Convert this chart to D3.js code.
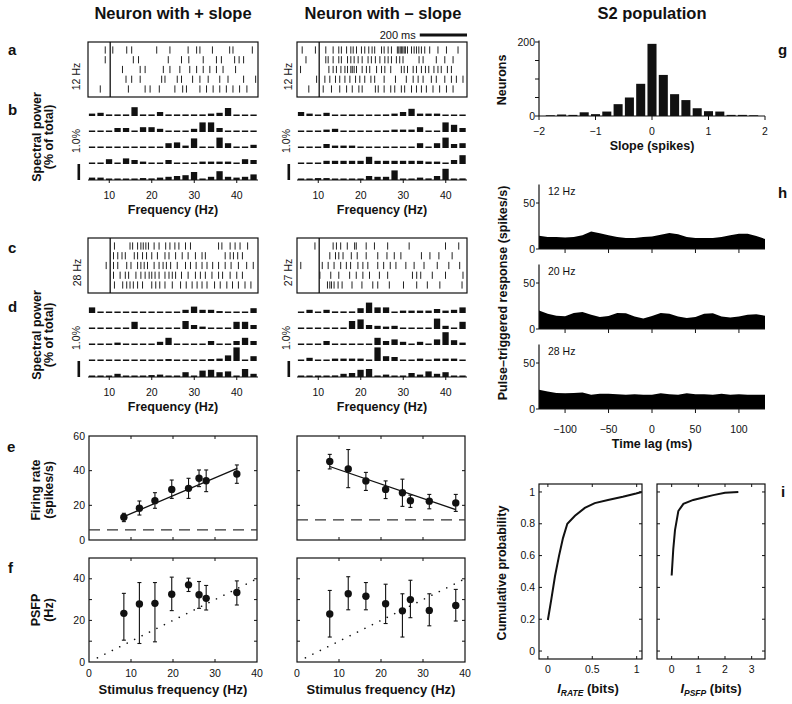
<!DOCTYPE html>
<html lang="en">
<head>
<meta charset="UTF-8">
<title>S2 neurons: rasters, spectra, tuning and information</title>
<script src="https://d3js.org/d3.v7.min.js"></script>
<style>
  body { margin: 0; background: #fff; }
  svg { font-family: "Liberation Sans", Arial, Helvetica, sans-serif; }
</style>
</head>
<body>
<svg id="fig" width="792" height="704"></svg>
<script>
// ---- a / c : spike rasters, spike times in ms (stimulus onset = 0)
const rasterWindow = [-94, 626];
const rasterA_pos = [
  [-21, 11, 70, 91, 197, 253, 330, 366, 380, 433, 506, 520, 602],
  [-21, 98, 120, 246, 302, 333, 394, 450, 471, 527, 546, 565],
  [52, 127, 148, 225, 253, 295, 337, 366, 394, 422, 450, 478, 531],
  [67, 91, 127, 218, 232, 284, 302, 349, 380, 415, 464, 499, 565, 616],
  [-42, 77, 148, 169, 208, 274, 307, 323, 380, 408, 436, 464, 492, 520, 548, 579]
];
const rasterA_neg = [
  [-72, -16, 28, 59, 83, 94, 116, 134, 144, 158, 179, 193, 210, 224, 235, 264, 275, 292, 306, 331, 337, 343, 348, 354, 360, 365, 374, 391, 402, 412, 422, 433, 447, 468, 503, 539, 588],
  [-56, 28, 38, 59, 83, 94, 120, 134, 148, 165, 182, 207, 221, 238, 257, 278, 292, 306, 327, 341, 355, 423, 440, 496, 532, 567],
  [-79, 41, 59, 73, 92, 109, 120, 134, 140, 148, 158, 182, 200, 214, 243, 264, 278, 303, 348, 360, 374, 398, 412, 433, 450, 464, 486, 503, 517, 543, 560],
  [-11, 24, 45, 69, 87, 109, 130, 154, 172, 193, 219, 235, 275, 323, 369, 398, 419, 440, 475, 496, 532, 560, 581, 609],
  [-44, 17, 52, 87, 116, 140, 168, 182, 238, 250, 275, 303, 320, 348, 362, 391, 412, 433, 454, 482, 510, 539, 567]
];
const rasterC_pos = [
  [18, 84, 95, 116, 130, 140, 151, 162, 186, 207, 235, 253, 274, 291, 319, 340, 459, 473, 508, 529, 550, 582],
  [14, 32, 50, 64, 102, 116, 137, 154, 176, 200, 232, 249, 277, 305, 330, 361, 389, 403, 487, 508, 522, 540, 560],
  [-17, 14, 32, 70, 88, 116, 130, 144, 158, 186, 207, 224, 238, 256, 284, 319, 340, 364, 389, 410, 434, 459, 487, 512, 543, 578, 606],
  [14, 42, 64, 78, 109, 130, 148, 165, 176, 190, 207, 232, 249, 263, 277, 302, 330, 361, 382, 403, 431, 459, 476, 508, 536, 560],
  [18, 53, 70, 84, 98, 116, 137, 176, 193, 210, 232, 263, 298, 322, 347, 368, 389, 410, 442, 466, 494, 518, 543, 571, 596]
];
const rasterC_neg = [
  [-18, 59, 73, 91, 119, 150, 157, 199, 234, 290, 381, 535, 591],
  [45, 69, 83, 101, 136, 161, 199, 248, 287, 318, 346, 433, 469, 507, 563],
  [-78, 13, 38, 63, 91, 115, 133, 164, 185, 206, 248, 273, 301, 325, 367, 402, 444, 500, 549, 595],
  [3, 49, 83, 129, 157, 185, 213, 255, 290, 395, 413, 430, 479, 535, 609],
  [35, 45, 52, 63, 80, 97, 139, 181, 227, 248, 297, 357, 413, 458, 511, 605]
];
const rateA_pos = "12 Hz", rateA_neg = "12 Hz", rateC_pos = "28 Hz", rateC_neg = "27 Hz";

// ---- b / d : spectral power per 2-Hz bin (% of total), five trials each
const specFreqs = [6, 8, 10, 12, 14, 16, 18, 20, 22, 24, 26, 28, 30, 32, 34, 36, 38, 40, 42, 44];
const specTicks = [10, 20, 30, 40];
const specB_pos = [
  [0.15, 0.2, 0.1, 0.1, 0.1, 0.55, 0.1, 0.1, 0.25, 0.1, 0.1, 0.1, 0.1, 0.1, 0.15, 0.2, 0.5, 0.08, 0.08, 0.08],
  [0.08, 0.08, 0.08, 0.25, 0.25, 0.08, 0.3, 0.3, 0.2, 0.08, 0.08, 0.08, 0.2, 0.6, 0.6, 0.25, 0.08, 0.08, 0.08, 0.08],
  [0.08, 0.08, 0.08, 0.08, 0.08, 0.08, 0.08, 0.08, 0.08, 0.3, 0.35, 0.15, 0.6, 0.08, 0.08, 0.65, 0.3, 0.08, 0.08, 0.2],
  [0.08, 0.08, 0.3, 0.08, 0.35, 0.25, 0.15, 0.08, 0.08, 0.25, 0.08, 0.08, 0.08, 0.15, 0.15, 0.15, 0.15, 0.08, 0.3, 0.25],
  [0.15, 0.15, 0.05, 0.05, 0.05, 0.05, 0.12, 0.1, 0.15, 0.2, 0.25, 0.3, 0.5, 0.05, 0.2, 0.55, 0.2, 0.15, 0.2, 0.35]
];
const specB_neg = [
  [0.25, 0.15, 0.08, 0.2, 0.08, 0.08, 0.1, 0.08, 0.08, 0.08, 0.1, 0.15, 0.25, 0.45, 0.15, 0.15, 0.15, 0.08, 0.08, 0.08],
  [0.08, 0.08, 0.08, 0.15, 0.2, 0.08, 0.08, 0.08, 0.08, 0.08, 0.1, 0.15, 0.15, 0.15, 0.3, 0.08, 0.08, 0.6, 0.45, 0.25],
  [0.08, 0.08, 0.08, 0.25, 0.15, 0.15, 0.15, 0.08, 0.08, 0.08, 0.08, 0.08, 0.08, 0.08, 0.3, 0.08, 0.3, 0.65, 0.25, 0.3],
  [0.08, 0.08, 0.08, 0.2, 0.2, 0.2, 0.2, 0.2, 0.45, 0.2, 0.2, 0.2, 0.2, 0.2, 0.2, 0.15, 0.15, 0.08, 0.25, 0.55],
  [0.04, 0.04, 0.12, 0.12, 0.04, 0.04, 0.04, 0.06, 0.25, 0.2, 0.2, 0.6, 0.04, 0.04, 0.15, 0.1, 0.25, 0.7, 0.04, 0.1]
];
const specD_pos = [
  [0.35, 0.08, 0.08, 0.08, 0.08, 0.08, 0.08, 0.08, 0.08, 0.08, 0.08, 0.2, 0.4, 0.2, 0.2, 0.12, 0.08, 0.08, 0.08, 0.3],
  [0.08, 0.08, 0.08, 0.08, 0.08, 0.45, 0.08, 0.08, 0.08, 0.08, 0.08, 0.5, 0.25, 0.15, 0.08, 0.08, 0.08, 0.45, 0.45, 0.25],
  [0.08, 0.08, 0.08, 0.15, 0.08, 0.08, 0.08, 0.08, 0.2, 0.45, 0.08, 0.08, 0.08, 0.08, 0.25, 0.08, 0.08, 0.25, 0.45, 0.25],
  [0.08, 0.08, 0.08, 0.08, 0.08, 0.08, 0.08, 0.08, 0.1, 0.12, 0.08, 0.08, 0.08, 0.08, 0.12, 0.15, 0.35, 0.85, 0.08, 0.3],
  [0.04, 0.04, 0.04, 0.2, 0.04, 0.06, 0.04, 0.12, 0.15, 0.04, 0.04, 0.3, 0.04, 0.4, 0.45, 0.3, 0.35, 0.04, 0.5, 0.2]
];
const specD_neg = [
  [0.08, 0.2, 0.08, 0.2, 0.1, 0.1, 0.1, 0.3, 0.65, 0.35, 0.35, 0.08, 0.15, 0.15, 0.15, 0.15, 0.25, 0.15, 0.2, 0.35],
  [0.08, 0.08, 0.08, 0.08, 0.08, 0.08, 0.5, 0.6, 0.25, 0.2, 0.15, 0.2, 0.08, 0.08, 0.08, 0.08, 0.65, 0.2, 0.08, 0.45],
  [0.08, 0.08, 0.08, 0.25, 0.08, 0.08, 0.08, 0.08, 0.08, 0.45, 0.25, 0.35, 0.2, 0.08, 0.2, 0.08, 0.35, 0.8, 0.3, 0.15],
  [0.08, 0.2, 0.08, 0.08, 0.15, 0.15, 0.15, 0.15, 0.08, 0.85, 0.3, 0.25, 0.08, 0.08, 0.15, 0.08, 0.15, 0.15, 0.15, 0.08],
  [0.03, 0.03, 0.03, 0.03, 0.1, 0.2, 0.25, 0.45, 0.5, 0.06, 0.15, 0.03, 0.03, 0.25, 0.15, 0.35, 0.2, 0.3, 0.06, 0.08]
];

// ---- e / f : firing rate and PSFP vs stimulus frequency
const stimPos = [8.3, 12.0, 15.7, 19.7, 23.7, 26.2, 27.9, 35.2];
const ratePos = [13.1, 18.3, 22.7, 29.2, 29.8, 35.6, 34.2, 38.1];
const rateLoPos = [10.6, 14.4, 18.3, 24.0, 24.0, 30.8, 27.9, 32.7];
const rateHiPos = [15.4, 22.5, 27.3, 34.6, 35.6, 40.4, 40.4, 43.3];
const rateFitXPos = [8.3, 35.3], rateFitYPos = [13.5, 41.3];
const spontPos = 5.8;
const psfpPos = [23.4, 27.9, 28.2, 32.6, 37.1, 32.3, 30.6, 33.4];
const psfpLoPos = [10.5, 8.9, 9.7, 24.7, 33.9, 25.8, 25.0, 27.4];
const psfpHiPos = [33.0, 38.2, 38.2, 40.8, 40.3, 38.7, 36.8, 39.0];

const stimNeg = [7.8, 12.2, 16.4, 21.1, 25.1, 27.0, 31.5, 37.8];
const rateNeg = [45.3, 41.0, 34.1, 29.2, 27.3, 22.7, 22.4, 21.4];
const rateLoNeg = [41.0, 30.2, 28.6, 23.9, 19.4, 18.8, 18.0, 16.5];
const rateHiNeg = [49.4, 52.2, 39.0, 34.1, 35.1, 25.9, 26.3, 26.3];
const rateFitXNeg = [7.8, 37.8], rateFitYNeg = [42.4, 17.5];
const spontNeg = 11.6;
const psfpNeg = [23.1, 32.8, 31.6, 28.0, 24.6, 30.0, 24.8, 27.2];
const psfpLoNeg = [12.0, 25.1, 25.1, 18.5, 12.0, 21.3, 17.4, 19.7];
const psfpHiNeg = [34.4, 41.0, 38.2, 37.4, 32.8, 39.3, 32.8, 34.9];
const unityX = [2, 40];

// ---- g : slope histogram
const slopeBins = [-1.8, -1.6, -1.4, -1.2, -1.0, -0.8, -0.6, -0.4, -0.2, 0, 0.2, 0.4, 0.6, 0.8, 1.0, 1.2, 1.4, 1.6, 1.8];
const slopeCounts = [2, 4, 3, 10, 5, 12, 32, 50, 87, 195, 111, 59, 43, 21, 13, 12, 3, 3, 2];

// ---- h : population pulse-triggered response (spikes/s)
const lagMs = [-130, -120, -110, -100, -90, -80, -70, -60, -50, -40, -30, -20, -10, 0, 10, 20, 30, 40, 50, 60, 70, 80, 90, 100, 110, 120, 130];
const resp12 = [14.5, 13, 13, 12.5, 13, 15, 19, 17, 15, 13, 12, 12, 13, 13.5, 15.5, 17.5, 16, 13, 12, 12, 12, 13, 15, 16.5, 16.5, 14, 11];
const resp20 = [20, 16.5, 14.5, 13.8, 17.5, 18.5, 15.5, 13, 14, 17.5, 17, 13.5, 11.5, 14, 17.5, 16.5, 13.5, 12, 13, 16.5, 17, 13.5, 12.5, 13.5, 15.5, 16, 14.5];
const resp28 = [21, 19, 17.5, 17, 17.5, 18, 15.5, 16.5, 16.5, 16, 15.5, 16, 15.5, 15.5, 17, 16, 15.5, 17, 16, 16, 15.5, 16.5, 15.5, 16, 15.5, 15.5, 15.5];
const respLabels = ["12 Hz", "20 Hz", "28 Hz"];

// ---- i : cumulative distributions of information
const rateBits = [0, 0.04, 0.08, 0.126, 0.17, 0.219, 0.305, 0.416, 0.528, 0.677, 0.844, 0.993, 1.056];
const rateCum = [0.195, 0.33, 0.47, 0.6, 0.71, 0.8, 0.85, 0.9, 0.93, 0.95, 0.97, 0.99, 1.0];
const psfpBits = [0, 0.06, 0.125, 0.25, 0.44, 0.81, 1.19, 1.56, 2.0, 2.5];
const psfpCum = [0.475, 0.64, 0.76, 0.88, 0.925, 0.95, 0.965, 0.98, 0.995, 1.0];

const ink = "#111";
const svg = d3.select("#fig");
const fmt = d3.format("");

function addText(x, y, str, o = {}) {
  return svg.append("text")
    .attr("transform", `translate(${x},${y})${o.rot ? ` rotate(${o.rot})` : ""}`)
    .attr("text-anchor", o.anchor || "middle")
    .attr("font-size", o.size || 12.5)
    .attr("font-weight", o.bold ? "bold" : null)
    .attr("fill", ink)
    .text(str);
}

function line(g, x1, y1, x2, y2, w = 1) {
  return g.append("line")
    .attr("x1", x1).attr("y1", y1).attr("x2", x2).attr("y2", y2)
    .attr("stroke", ink).attr("stroke-width", w);
}

function frame(g, x0, y0, x1, y1) {
  g.append("rect").attr("x", x0).attr("y", y0)
    .attr("width", x1 - x0).attr("height", y1 - y0)
    .attr("fill", "none").attr("stroke", ink).attr("stroke-width", 1.2);
}

// titles and panel letters
addText(173, 19, "Neuron with + slope", { bold: true, size: 16.5 });
addText(383, 19, "Neuron with \u2013 slope", { bold: true, size: 16.5 });
addText(652, 19, "S2 population", { bold: true, size: 16.5 });
[["a", 8, 55], ["b", 8, 115], ["c", 8, 253], ["d", 8, 312], ["e", 7, 452], ["f", 8, 573],
 ["g", 778, 55], ["h", 778, 198], ["i", 781, 497]].forEach(([s, x, y]) =>
  addText(x, y, s, { bold: true, size: 15, anchor: "start" }));

function drawRaster(x0, x1, y0, y1, trials, rate, labelX) {
  const g = svg.append("g");
  const x = d3.scaleLinear().domain(rasterWindow).range([x0, x1]);
  const y = d3.scalePoint().domain(trials.map((_, i) => i)).range([y0 + 8, y1 - 8]);
  frame(g, x0, y0, x1, y1);
  line(g, x(0), y0, x(0), y1, 1.3);
  trials.forEach((row, i) => {
    g.selectAll(null).data(row).join("line")
      .attr("x1", d => x(d)).attr("x2", d => x(d))
      .attr("y1", y(i) - 3.6).attr("y2", y(i) + 3.6)
      .attr("stroke", "#222").attr("stroke-width", 1);
  });
  addText(labelX, (y0 + y1) / 2 + 7, rate, { rot: -90, size: 10.5 });
  return x;
}

function drawSpectrum(x0, x1, bases, rows, scaleX) {
  const g = svg.append("g");
  const x = d3.scaleLinear().domain([5, 45]).range([x0, x1]);
  const h = d3.scaleLinear().domain([0, 1]).range([0, 16]);
  rows.forEach((vals, i) => {
    g.selectAll(null).data(vals).join("rect")
      .attr("x", (d, j) => x(specFreqs[j] - 1) + 0.9)
      .attr("width", (d, j) => x(specFreqs[j] + 1) - x(specFreqs[j] - 1) - 2.2)
      .attr("y", d => bases[i] - Math.max(h(d), 1.5))
      .attr("height", d => Math.max(h(d), 1.5))
      .attr("fill", ink);
  });
  const yb = bases[bases.length - 1];
  line(g, x0, yb, x1, yb, 1);
  specTicks.forEach(t => {
    line(g, x(t), yb, x(t), yb + 3, 1);
    addText(x(t), yb + 19, t, { size: 10.5 });
  });
  addText((x0 + x1) / 2, yb + 34, "Frequency (Hz)", { bold: true });
  g.append("rect").attr("x", scaleX - 2.5).attr("y", yb - h(1))
    .attr("width", 2.6).attr("height", h(1)).attr("fill", ink);
  addText(scaleX, bases[1] + 9, "1.0%", { rot: -90, size: 10.5 });
}

// a, b
const rxA = drawRaster(88, 258, 42, 97, rasterA_pos, rateA_pos, 80);
drawRaster(297, 467, 42, 97, rasterA_neg, rateA_neg, 292);
drawSpectrum(88, 258, [116, 132, 148, 164, 180], specB_pos, 80);
drawSpectrum(297, 467, [116, 132, 148, 164, 180], specB_neg, 290);
// 200 ms scale bar
{
  const xs = d3.scaleLinear().domain(rasterWindow).range([297, 467]);
  svg.append("rect").attr("x", xs(626 - 200)).attr("y", 33.5)
    .attr("width", xs(626) - xs(426)).attr("height", 3).attr("fill", ink);
  addText(xs(426) - 4, 38.5, "200 ms", { size: 11, anchor: "end" });
}
// c, d
drawRaster(88, 258, 238, 293, rasterC_pos, rateC_pos, 81);
drawRaster(297, 467, 238, 293, rasterC_neg, rateC_neg, 292);
drawSpectrum(88, 258, [313, 329, 345, 361, 377], specD_pos, 80);
drawSpectrum(297, 467, [313, 329, 345, 361, 377], specD_neg, 290);

// spectral y titles
[137, 335].forEach(cy => {
  addText(41, cy, "Spectral power", { rot: -90, bold: true });
  addText(53, cy, "(% of total)", { rot: -90, bold: true });
});

// e, f
function drawScatter(x0, x1, y0, y1, yMax, yTicks, yLabels, xs, m, lo, hi, o) {
  const g = svg.append("g");
  const x = d3.scaleLinear().domain([0, 40]).range([x0, x1]);
  const y = d3.scaleLinear().domain([0, yMax]).range([y1, y0]);
  frame(g, x0, y0, x1, y1);
  yTicks.forEach(t => {
    line(g, x0, y(t), x0 + 3, y(t));
    line(g, x1 - 3, y(t), x1, y(t));
  });
  [10, 20, 30].forEach(t => {
    line(g, x(t), y1, x(t), y1 - 3);
    line(g, x(t), y0, x(t), y0 + 3);
  });
  if (o.showY) yLabels.forEach(t =>
    addText(x0 - 4, y(t) + 3.6, t, { size: 10.5, anchor: "end" }));
  if (o.showX) [0, 10, 20, 30, 40].forEach(t =>
    addText(x(t), y1 + 15, t, { size: 10.5 }));
  if (o.spont !== undefined) {
    line(g, x0, y(o.spont), x1, y(o.spont), 1.2)
      .attr("stroke", "#333").attr("stroke-dasharray", "11,7");
  }
  if (o.unity) {
    g.append("line")
      .attr("x1", x(o.unity[0])).attr("y1", y(o.unity[0]))
      .attr("x2", x(o.unity[1])).attr("y2", y(o.unity[1]))
      .attr("stroke", ink).attr("stroke-width", 1.6)
      .attr("stroke-linecap", "round").attr("stroke-dasharray", "0.1,8.2");
  }
  if (o.fitX) {
    line(g, x(o.fitX[0]), y(o.fitY[0]), x(o.fitX[1]), y(o.fitY[1]), 1.3);
  }
  xs.forEach((f, i) => {
    line(g, x(f), y(lo[i]), x(f), y(hi[i]), 1.1);
    line(g, x(f) - 2, y(lo[i]), x(f) + 2, y(lo[i]), 1.1);
    line(g, x(f) - 2, y(hi[i]), x(f) + 2, y(hi[i]), 1.1);
  });
  g.selectAll(null).data(xs).join("circle")
    .attr("cx", d => x(d)).attr("cy", (d, i) => y(m[i]))
    .attr("r", 3.7).attr("fill", ink);
}

drawScatter(89, 257, 436, 540, 60, [20, 40], [0, 20, 40, 60], stimPos, ratePos, rateLoPos, rateHiPos,
  { showY: true, spont: spontPos, fitX: rateFitXPos, fitY: rateFitYPos });
drawScatter(297, 465, 436, 540, 60, [20, 40], [], stimNeg, rateNeg, rateLoNeg, rateHiNeg,
  { spont: spontNeg, fitX: rateFitXNeg, fitY: rateFitYNeg });
drawScatter(89, 257, 558, 662, 50, [10, 20, 30, 40], [0, 20, 40], stimPos, psfpPos, psfpLoPos, psfpHiPos,
  { showY: true, showX: true, unity: unityX });
drawScatter(297, 465, 558, 662, 50, [10, 20, 30, 40], [], stimNeg, psfpNeg, psfpLoNeg, psfpHiNeg,
  { showX: true, unity: unityX });

addText(40, 490, "Firing rate", { rot: -90, bold: true });
addText(53, 490, "(spikes/s)", { rot: -90, bold: true });
addText(40, 610, "PSFP", { rot: -90, bold: true });
addText(53, 610, "(Hz)", { rot: -90, bold: true });
addText(173, 694, "Stimulus frequency (Hz)", { bold: true, size: 13 });
addText(381, 694, "Stimulus frequency (Hz)", { bold: true, size: 13 });

// g : slope histogram
{
  const g = svg.append("g");
  const x = d3.scaleLinear().domain([-2, 2]).range([539, 765]);
  const y = d3.scaleLinear().domain([0, 200]).range([116, 42]);
  const bw = (x(0.2) - x(0)) * 0.8;
  g.selectAll(null).data(slopeBins).join("rect")
    .attr("x", d => x(d) - bw / 2).attr("width", bw)
    .attr("y", (d, i) => y(slopeCounts[i]))
    .attr("height", (d, i) => y(0) - y(slopeCounts[i]))
    .attr("fill", ink);
  line(g, x(-2), y(0), x(2), y(0), 1.2);
  line(g, x(-2), y(0), x(-2), y(204), 1.2);
  [0, 50, 100, 150, 200].forEach(t => line(g, x(-2) - 4, y(t), x(-2), y(t)));
  [0, 200].forEach(t => addText(535, y(t) + 3.6, t, { size: 10.5, anchor: "end" }));
  [-2, -1, 0, 1, 2].forEach(t => {
    line(g, x(t), y(0), x(t), y(0) + 4);
    addText(x(t), 135, fmt(t), { size: 10.5 });
  });
  addText(652, 150, "Slope (spikes)", { bold: true });
  addText(506, 80, "Neurons", { rot: -90, bold: true });
}

// h : pulse-triggered responses
{
  const x = d3.scaleLinear().domain([-130, 130]).range([539, 765]);
  [resp12, resp20, resp28].forEach((vals, k) => {
    const g = svg.append("g");
    const base = [249, 329, 409][k];
    const y = d3.scaleLinear().domain([0, 50]).range([base, base - 46]);
    const area = d3.area()
      .x((d, i) => x(lagMs[i])).y0(y(0)).y1(d => y(d));
    g.append("path").datum(vals).attr("d", area).attr("fill", "#000");
    line(g, x(-130), y(0), x(130), y(0), 1);
    line(g, x(-130), y(0), x(-130), y(70), 1.2);
    [0, 50].forEach(t => {
      line(g, x(-130) - 3, y(t), x(-130), y(t));
      addText(535, y(t) + 3.6, t, { size: 10.5, anchor: "end" });
    });
    [-100, -50, 0, 50, 100].forEach(t => line(g, x(t), y(0), x(t), y(0) + 4));
    addText(548, base - 54, respLabels[k], { size: 10.5, anchor: "start" });
    if (k === 2) [-100, -50, 0, 50, 100].forEach(t =>
      addText(x(t), 433, fmt(t), { size: 10.5 }));
  });
  addText(652, 448, "Time lag (ms)", { bold: true });
  addText(507, 293, "Pulse\u2013triggered response (spikes/s)", { rot: -90, bold: true });
}

// i : cumulative probability of information
function drawCdf(x0, x1, dom, ticks, bits, cum, showY) {
  const g = svg.append("g");
  const x = d3.scaleLinear().domain(dom).range([x0, x1]);
  const y = d3.scaleLinear().domain([-0.05, 1.05]).range([659, 484]);
  frame(g, x0, 484, x1, 659);
  [0, 0.2, 0.4, 0.6, 0.8, 1].forEach(t => {
    line(g, x0, y(t), x0 + 3, y(t));
    line(g, x1 - 3, y(t), x1, y(t));
    if (showY) addText(535, y(t) + 3.6, d3.format("")(t), { size: 10.5, anchor: "end" });
  });
  ticks.forEach(t => {
    line(g, x(t), 659, x(t), 656);
    line(g, x(t), 484, x(t), 487);
    addText(x(t), 673, t, { size: 10.5 });
  });
  const l = d3.line().x((d, i) => x(bits[i])).y(d => y(d));
  g.append("path").datum(cum).attr("d", l)
    .attr("fill", "none").attr("stroke", ink).attr("stroke-width", 2);
  return x;
}
drawCdf(539, 642, [-0.1, 1.06], [0, 0.5, 1], rateBits, rateCum, true);
drawCdf(657, 765, [-0.55, 3.5], [0, 1, 2, 3], psfpBits, psfpCum, false);
addText(506, 573, "Cumulative probability", { rot: -90, bold: true });

function infoLabel(cx, sub) {
  const t = svg.append("text").attr("x", cx).attr("y", 693)
    .attr("text-anchor", "middle").attr("font-weight", "bold").attr("fill", ink)
    .attr("font-size", 13);
  t.append("tspan").attr("font-style", "italic").text("I");
  t.append("tspan").attr("font-style", "italic").attr("font-size", 8.5)
    .attr("dy", 3).text(sub);
  t.append("tspan").attr("dy", -3).text(" (bits)");
}
infoLabel(588, "RATE");
infoLabel(711, "PSFP");
</script>
</body>
</html>
